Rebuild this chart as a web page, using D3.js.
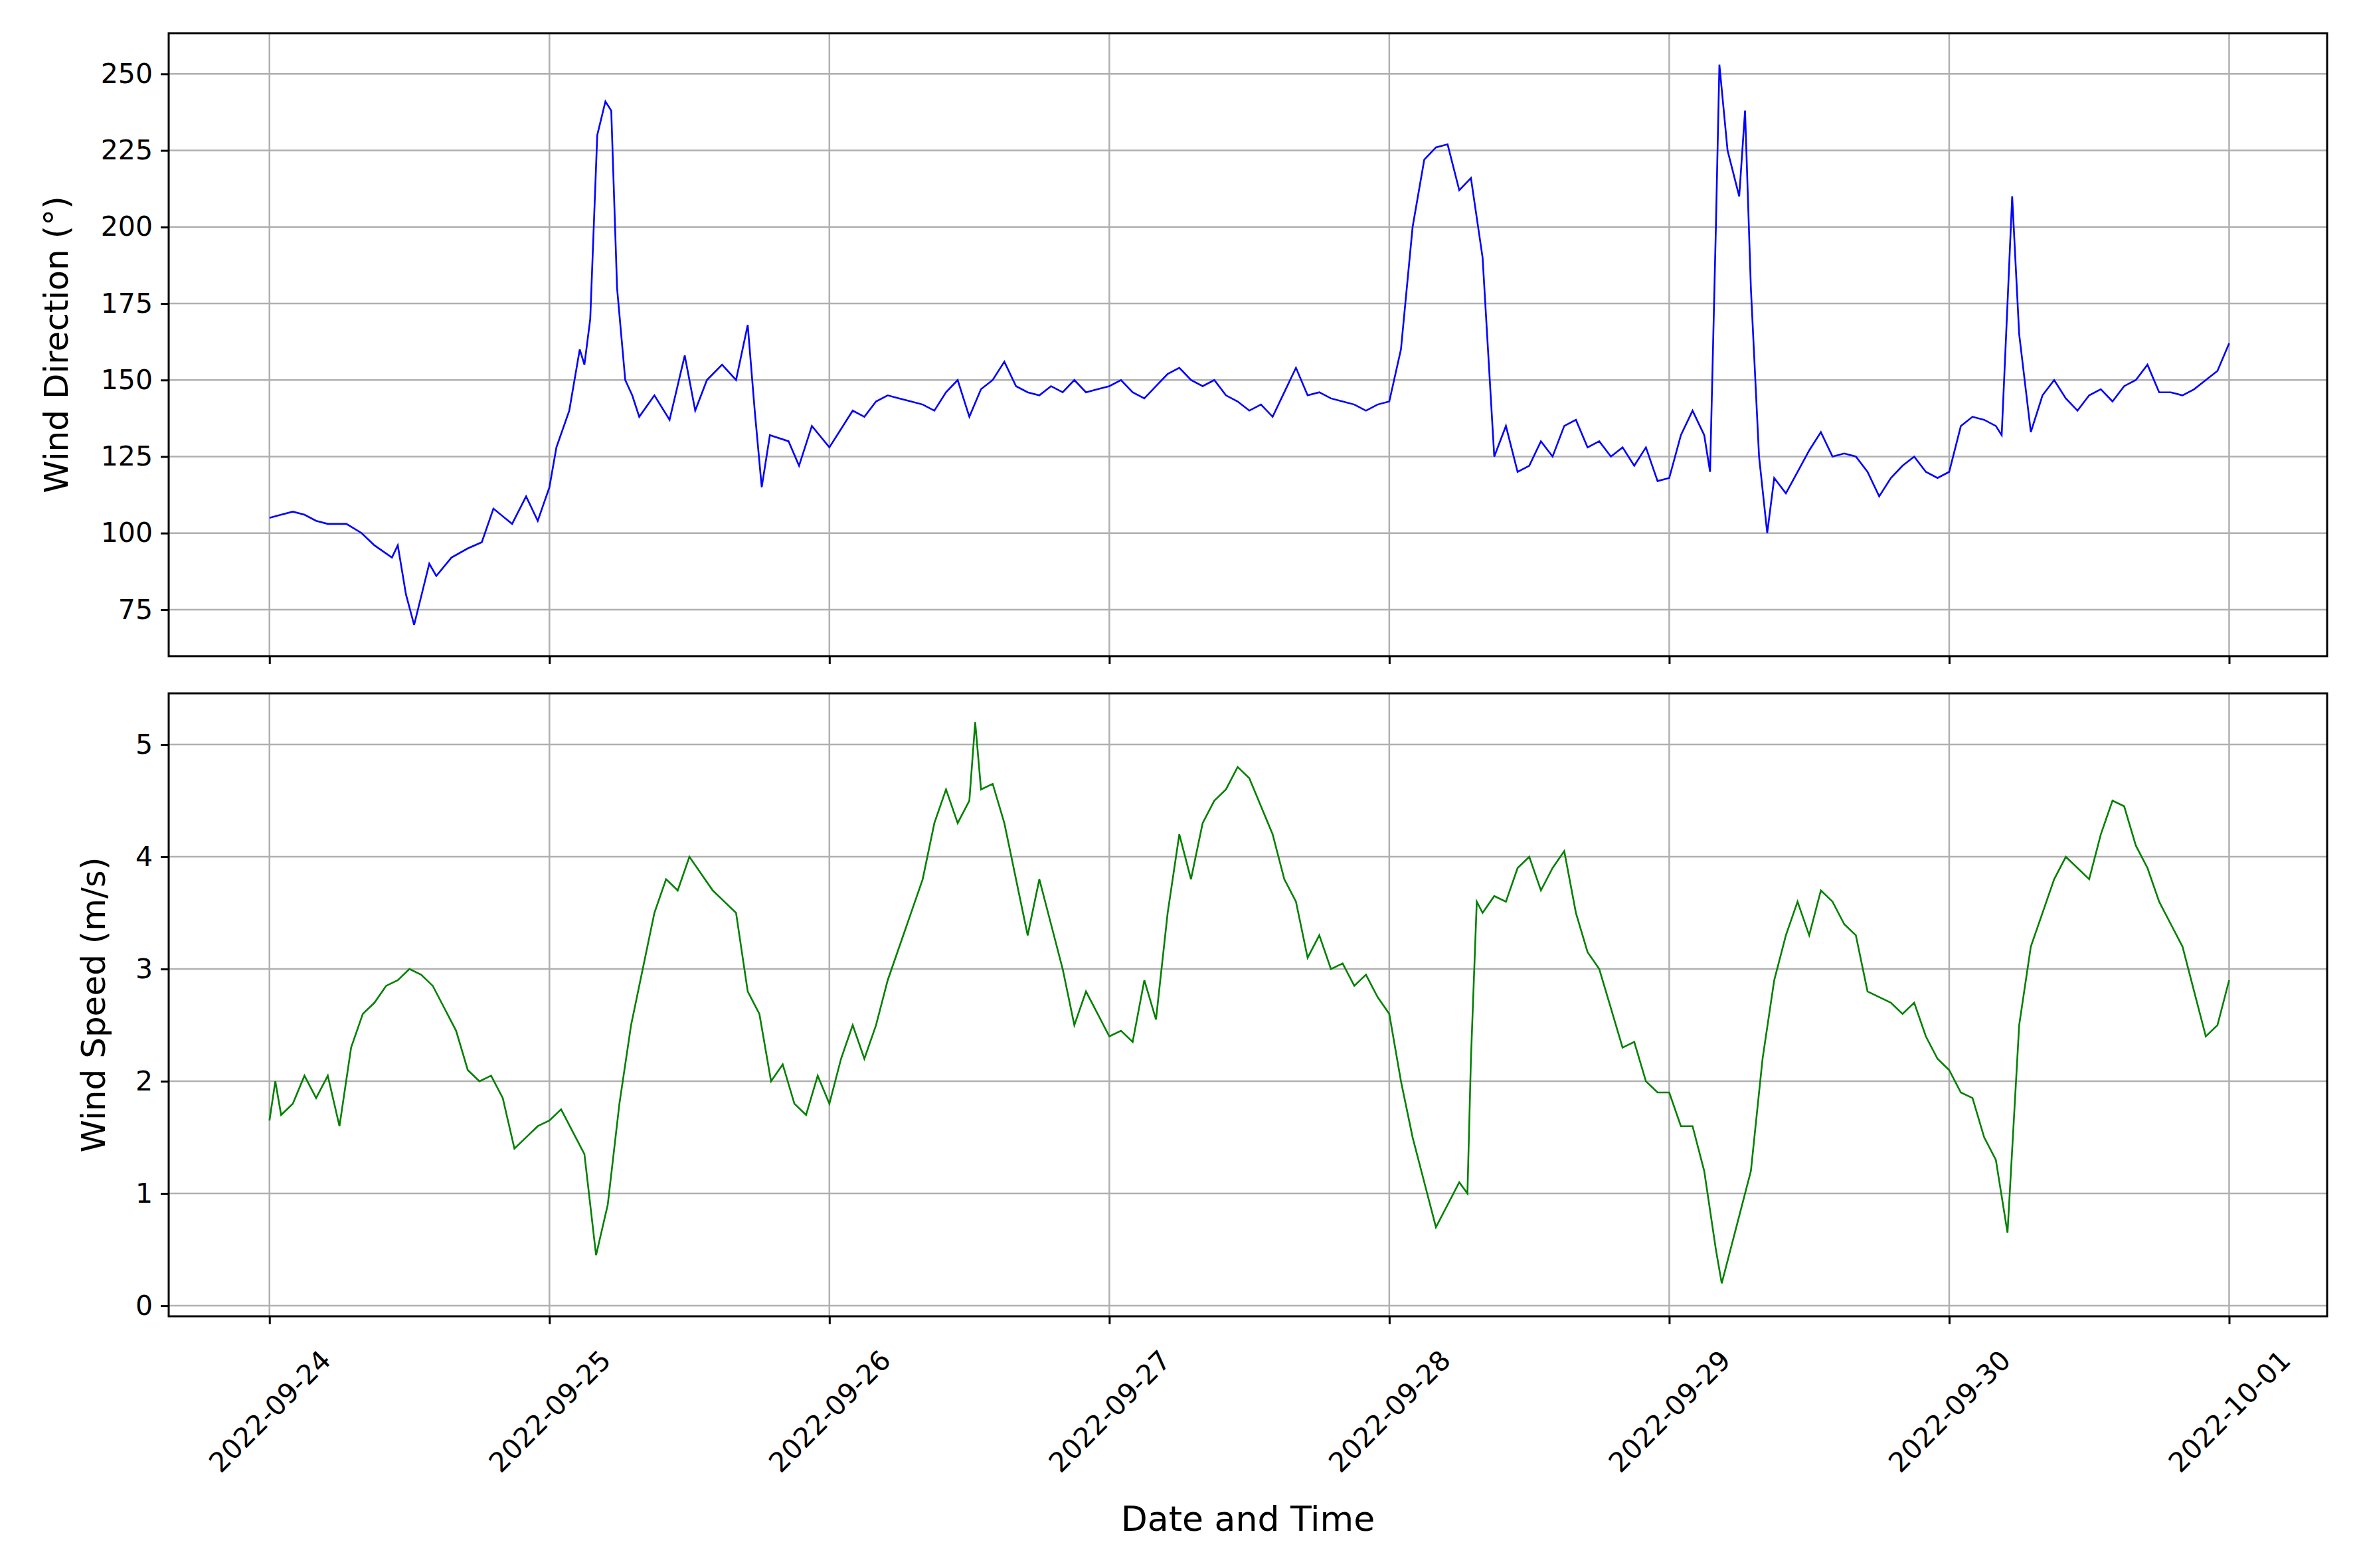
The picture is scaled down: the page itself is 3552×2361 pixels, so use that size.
<!DOCTYPE html>
<html><head><meta charset="utf-8">
<script src="https://cdn.jsdelivr.net/npm/d3@7"></script>
<style>body{margin:0;background:#fff}svg{font-family:"DejaVu Sans",sans-serif}</style>
</head><body>
<script>
const startDate = new Date(2022,8,24);
const tickLabels = ["2022-09-24","2022-09-25","2022-09-26","2022-09-27","2022-09-28","2022-09-29","2022-09-30","2022-10-01"];
const dirYTicks = [75,100,125,150,175,200,225,250];
const spdYTicks = [0,1,2,3,4,5];
const dirHours = [0,1,2,3,4,5,6,6.6,7.9,9,10.5,11,11.7,12.4,13.7,14.3,15.6,17,18.2,19.2,20.8,22,23,
 24,24.6,25.7,26.6,27,27.5,28.1,28.8,29.3,29.8,30.5,31.1,31.7,33,34.3,35.6,36.5,37.5,38.8,40,41,41.6,42.2,42.9,44.5,45.4,46.5,
 48,49,50,51,52,53,54,55,56,57,58,59,60,61,62,63,64,65,66,67,68,69,70,71,
 72,73,74,75,76,77,78,79,80,81,82,83,84,85,86,87,88,89,90,91,92,93,94,95,
 96,97,98,99,100,101,102,103,104,105,106,107,108,109,110,111,112,113,114,115,116,117,118,119,
 120,121,122,123,123.5,124,124.3,125,126,126.5,127,127.7,128.4,129,130,131,132,133,134,135,136,137,138,139,140,141,142,143,
 144,145,146,147,148,148.5,149,149.4,150,151,152,153,154,155,156,157,158,159,160,161,162,163,164,165,166,167,168];
const dirValues = [105,106,107,106,104,103,103,103,100,96,92,96,80,70,90,86,92,95,97,108,103,112,104,
 115,128,140,160,155,170,230,241,238,180,150,145,138,145,137,158,140,150,155,150,168,140,115,132,130,122,135,
 128,134,140,138,143,145,144,143,142,140,146,150,138,147,150,156,148,146,145,148,146,150,146,147,
 148,150,146,144,148,152,154,150,148,150,145,143,140,142,138,146,154,145,146,144,143,142,140,142,
 143,160,200,222,226,227,212,216,190,125,135,120,122,130,125,135,137,128,130,125,128,122,128,117,
 118,132,140,132,120,200,253,225,210,238,180,125,100,118,113,120,127,133,125,126,125,120,112,118,122,125,120,118,
 120,135,138,137,135,132,175,210,165,133,145,150,144,140,145,147,143,148,150,155,146,146,145,147,150,153,162];
const spdHours = [0,0.5,1,2,3,4,5,6,7,8,9,10,11,12,13,14,15,16,17,18,19,20,21,22,23,
 24,25,26,27,28,29,30,31,32,33,34,35,36,37,38,39,40,41,42,43,44,45,46,47,
 48,49,50,51,52,53,54,55,56,57,58,59,60,60.5,61,62,63,64,65,66,67,68,69,70,71,
 72,73,74,75,76,77,78,79,80,81,82,83,84,85,86,87,88,89,90,91,92,93,94,95,
 96,97,98,99,100,101,102,102.7,103,103.5,104,105,106,107,108,109,110,111,112,113,114,115,116,117,118,119,
 120,121,122,123,124,124.5,125,126,127,128,129,130,131,132,133,134,135,136,137,138,139,140,141,142,143,
 144,145,146,147,148,149,150,151,152,153,154,155,156,157,158,159,160,161,162,163,164,165,166,167,168];
const spdValues = [1.65,2.0,1.7,1.8,2.05,1.85,2.05,1.6,2.3,2.6,2.7,2.85,2.9,3.0,2.95,2.85,2.65,2.45,2.1,2.0,2.05,1.85,1.4,1.5,1.6,
 1.65,1.75,1.55,1.35,0.45,0.9,1.8,2.5,3.0,3.5,3.8,3.7,4.0,3.85,3.7,3.6,3.5,2.8,2.6,2.0,2.15,1.8,1.7,2.05,
 1.8,2.2,2.5,2.2,2.5,2.9,3.2,3.5,3.8,4.3,4.6,4.3,4.5,5.2,4.6,4.65,4.3,3.8,3.3,3.8,3.4,3.0,2.5,2.8,2.6,
 2.4,2.45,2.35,2.9,2.55,3.5,4.2,3.8,4.3,4.5,4.6,4.8,4.7,4.45,4.2,3.8,3.6,3.1,3.3,3.0,3.05,2.85,2.95,2.75,
 2.6,2.0,1.5,1.1,0.7,0.9,1.1,1.0,2.2,3.6,3.5,3.65,3.6,3.9,4.0,3.7,3.9,4.05,3.5,3.15,3.0,2.65,2.3,2.35,2.0,1.9,
 1.9,1.6,1.6,1.2,0.5,0.2,0.4,0.8,1.2,2.2,2.9,3.3,3.6,3.3,3.7,3.6,3.4,3.3,2.8,2.75,2.7,2.6,2.7,2.4,2.2,
 2.1,1.9,1.85,1.5,1.3,0.65,2.5,3.2,3.5,3.8,4.0,3.9,3.8,4.2,4.5,4.45,4.1,3.9,3.6,3.4,3.2,2.8,2.4,2.5,2.9];

const W=3552,H=2361;
const svg=d3.select("body").append("svg").attr("width",W).attr("height",H);
const L=254,R=3504;
const t=h=>new Date(startDate.getTime()+h*3600e3);
const x=d3.scaleTime().domain([t(-8.64),t(176.4)]).range([L,R]);
const tickDates=tickLabels.map((s,i)=>t(i*24));

function panel(top,bot,domain,ticks,hours,vals,color,label,showX,labelX){
  const y=d3.scaleLinear().domain(domain).range([bot,top]);
  const g=svg.append("g");
  g.selectAll(".gx").data(tickDates).enter().append("line")
   .attr("x1",d=>x(d)).attr("x2",d=>x(d)).attr("y1",top).attr("y2",bot).attr("stroke","#b0b0b0").attr("stroke-width",2.5);
  g.selectAll(".gy").data(ticks).enter().append("line")
   .attr("x1",L).attr("x2",R).attr("y1",d=>y(d)).attr("y2",d=>y(d)).attr("stroke","#b0b0b0").attr("stroke-width",2.5);
  const line=d3.line().x((d,i)=>x(t(hours[i]))).y(d=>y(d));
  g.append("path").datum(vals).attr("d",line).attr("fill","none").attr("stroke",color).attr("stroke-width",2.6);
  g.append("rect").attr("x",L).attr("y",top).attr("width",R-L).attr("height",bot-top).attr("fill","none").attr("stroke","#000").attr("stroke-width",3);
  const ya=g.append("g").attr("transform",`translate(${L},0)`).call(d3.axisLeft(y).tickValues(ticks).tickFormat(d3.format("d")).tickSize(12).tickPadding(12));
  ya.select(".domain").remove();
  ya.selectAll("text").attr("font-size",41).attr("fill","#000").attr("font-family","DejaVu Sans");
  ya.selectAll("line").attr("stroke-width",3);
  const xa=g.append("g").attr("transform",`translate(0,${bot})`).call(d3.axisBottom(x).tickValues(tickDates).tickSize(12).tickFormat(showX?((d,i)=>tickLabels[i]):""));
  xa.select(".domain").remove();
  xa.selectAll("line").attr("stroke-width",3);
  if(showX) xa.selectAll("text").attr("font-size",41).attr("fill","#000").attr("font-family","DejaVu Sans")
     .attr("text-anchor","middle").attr("x",0).attr("y",0).attr("dy","0.35em").attr("transform","translate(0,143) rotate(-45)");
  svg.append("text").attr("transform",`translate(${labelX},${(top+bot)/2}) rotate(-90)`).attr("text-anchor","middle")
   .attr("font-size",50).text(label);
}
panel(50,988,[59.8,263.3],dirYTicks,dirHours,dirValues,"#0000ff","Wind Direction (°)",false,102);
panel(1044,1982,[-0.094,5.456],spdYTicks,spdHours,spdValues,"#008000","Wind Speed (m/s)",true,158);
svg.append("text").attr("x",(L+R)/2).attr("y",2305).attr("text-anchor","middle").attr("font-size",52).text("Date and Time");
</script>
</body></html>
